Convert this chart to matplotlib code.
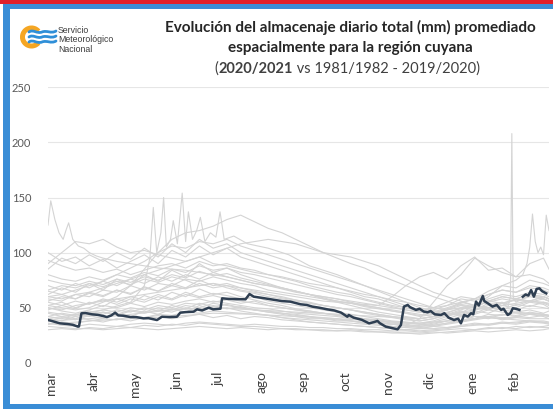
import matplotlib
matplotlib.use("Agg")
import matplotlib.pyplot as plt
from matplotlib.patches import Rectangle, Wedge, PathPatch
from matplotlib.path import Path

# ---- data -----------------------------------------------------------------
MONTHS = ["mar", "abr", "may", "jun", "jul", "ago", "sep", "oct", "nov", "dic", "ene", "feb"]
MONTH_START = [0, 31, 61, 92, 122, 153, 184, 214, 245, 275, 306, 337]

# common sampling (day of season, 0 = 1 March) for the historical years
GRID_DAYS = [0, 10, 20, 30, 40, 50, 60, 70, 80, 90, 100, 110, 120, 130, 140, 150, 160, 170, 180,
             190, 200, 210, 220, 230, 240, 250, 260, 270, 280, 290, 300, 310, 320, 330, 340, 350,
             360, 364]

HIST_GRID = [
    [33, 32, 31, 31, 30, 31, 32, 31, 30, 31, 32, 33, 32, 31, 32, 31, 30, 31, 30, 30, 29, 29, 30, 29, 28, 28, 27, 27, 28, 27, 28, 29, 28, 29, 30, 29, 30, 31],
    [36, 34, 33, 35, 34, 33, 35, 36, 35, 34, 36, 37, 36, 35, 34, 35, 34, 33, 33, 32, 32, 31, 31, 30, 30, 29, 29, 28, 29, 30, 31, 30, 32, 31, 33, 32, 33, 34],
    [40, 38, 42, 39, 37, 40, 38, 41, 43, 40, 42, 44, 41, 43, 40, 42, 41, 39, 38, 37, 36, 35, 34, 33, 32, 31, 30, 31, 33, 32, 34, 36, 35, 37, 36, 38, 37, 36],
    [45, 42, 40, 44, 46, 43, 47, 45, 48, 46, 50, 48, 52, 49, 51, 48, 46, 45, 43, 42, 40, 39, 38, 36, 35, 33, 32, 34, 36, 38, 37, 40, 42, 39, 41, 44, 42, 40],
    [50, 47, 45, 48, 52, 50, 54, 51, 55, 53, 56, 58, 55, 57, 54, 56, 52, 50, 48, 46, 45, 43, 41, 40, 38, 36, 35, 33, 35, 38, 42, 40, 44, 43, 46, 48, 45, 47],
    [55, 52, 56, 53, 58, 55, 60, 57, 62, 58, 64, 60, 63, 61, 58, 60, 56, 54, 52, 50, 48, 46, 44, 42, 40, 38, 37, 36, 38, 42, 46, 44, 48, 52, 50, 55, 53, 50],
    [60, 62, 58, 64, 61, 66, 63, 68, 65, 70, 67, 72, 68, 70, 66, 64, 62, 59, 57, 55, 52, 50, 48, 46, 44, 42, 40, 38, 40, 45, 50, 48, 54, 52, 58, 56, 60, 58],
    [70, 66, 72, 68, 74, 70, 76, 72, 78, 74, 80, 76, 82, 78, 75, 72, 70, 67, 64, 62, 60, 58, 55, 52, 50, 47, 45, 42, 44, 48, 55, 52, 58, 62, 60, 64, 62, 60],
    [80, 76, 74, 78, 75, 80, 77, 82, 79, 85, 82, 88, 84, 86, 82, 80, 77, 74, 71, 68, 65, 62, 60, 57, 54, 51, 48, 46, 48, 52, 58, 56, 62, 66, 64, 70, 68, 66],
    [93, 88, 84, 86, 82, 85, 80, 84, 88, 90, 86, 92, 88, 90, 86, 84, 80, 77, 74, 70, 67, 64, 62, 58, 55, 52, 50, 47, 50, 55, 60, 58, 65, 70, 68, 75, 72, 70],
    [52, 50, 48, 50, 55, 60, 70, 85, 100, 112, 118, 120, 124, 130, 134, 128, 122, 118, 112, 106, 100, 95, 90, 86, 80, 75, 70, 65, 60, 56, 52, 50, 48, 46, 45, 44, 43, 42],
    [65, 62, 66, 70, 74, 80, 86, 92, 100, 106, 104, 110, 108, 112, 106, 102, 98, 94, 90, 86, 82, 78, 74, 70, 66, 62, 58, 54, 50, 48, 50, 52, 55, 58, 56, 60, 58, 56],
    [42, 40, 44, 42, 46, 44, 48, 46, 50, 48, 52, 50, 54, 52, 50, 48, 46, 44, 42, 40, 40, 38, 38, 36, 36, 35, 34, 40, 55, 70, 80, 95, 88, 82, 78, 90, 95, 85],
    [58, 56, 62, 60, 66, 64, 70, 66, 72, 70, 76, 74, 78, 75, 72, 70, 66, 64, 62, 60, 58, 56, 54, 52, 50, 48, 46, 44, 42, 44, 46, 48, 50, 52, 54, 56, 55, 54],
    [46, 44, 42, 45, 48, 46, 50, 48, 52, 50, 54, 53, 56, 54, 52, 50, 49, 47, 45, 44, 43, 42, 40, 39, 38, 37, 36, 35, 34, 36, 38, 40, 42, 44, 43, 45, 44, 43],
    [90, 100, 110, 108, 112, 105, 100, 102, 98, 95, 92, 96, 90, 88, 85, 82, 80, 78, 75, 72, 70, 68, 65, 62, 60, 57, 55, 52, 50, 52, 55, 58, 56, 60, 58, 62, 60, 58],
    [60, 58, 62, 64, 68, 72, 76, 80, 84, 88, 92, 96, 100, 104, 108, 110, 112, 110, 108, 104, 100, 98, 96, 92, 88, 82, 76, 70, 64, 60, 56, 52, 50, 48, 46, 45, 44, 43],
    [50, 48, 52, 54, 56, 58, 60, 62, 64, 66, 68, 70, 72, 70, 68, 66, 64, 62, 60, 58, 56, 55, 54, 53, 52, 60, 70, 78, 82, 76, 88, 96, 84, 86, 78, 80, 76, 72],
    [42, 45, 43, 47, 44, 48, 46, 50, 47, 52, 49, 54, 51, 53, 50, 48, 47, 45, 44, 42, 41, 40, 38, 37, 36, 35, 33, 32, 33, 35, 37, 39, 41, 40, 42, 41, 43, 42],
    [52, 55, 50, 54, 57, 53, 58, 55, 60, 57, 62, 59, 61, 58, 56, 54, 52, 50, 48, 47, 45, 44, 42, 40, 39, 37, 36, 35, 37, 40, 44, 47, 45, 50, 48, 52, 50, 49],
    [35, 37, 36, 38, 40, 39, 42, 41, 44, 43, 46, 45, 47, 46, 45, 44, 43, 41, 40, 39, 38, 37, 36, 35, 34, 33, 32, 31, 31, 32, 33, 34, 35, 36, 37, 38, 38, 37],
    [75, 72, 70, 74, 71, 76, 73, 78, 75, 80, 77, 83, 79, 81, 77, 74, 71, 68, 65, 62, 59, 56, 54, 51, 49, 47, 45, 43, 45, 49, 53, 51, 56, 60, 58, 62, 60, 58],
    [66, 70, 68, 72, 69, 74, 71, 76, 73, 78, 75, 70, 72, 68, 65, 63, 60, 58, 56, 54, 52, 50, 48, 46, 44, 42, 41, 40, 42, 46, 49, 52, 50, 54, 57, 55, 58, 56],
    [30, 31, 30, 32, 31, 33, 32, 34, 33, 35, 34, 36, 35, 34, 33, 33, 32, 31, 31, 30, 30, 29, 29, 28, 28, 27, 27, 26, 27, 28, 29, 30, 31, 32, 31, 33, 32, 32],
    [85, 95, 90, 98, 92, 100, 94, 104, 96, 108, 100, 112, 104, 108, 100, 96, 92, 88, 84, 80, 76, 72, 68, 64, 60, 56, 52, 48, 46, 50, 54, 58, 62, 66, 64, 68, 66, 64],
    [62, 68, 64, 72, 66, 76, 70, 80, 74, 84, 78, 90, 82, 86, 80, 76, 72, 68, 65, 62, 58, 55, 52, 49, 46, 44, 42, 40, 42, 44, 48, 52, 50, 54, 52, 56, 54, 52],
    [48, 52, 49, 55, 51, 58, 54, 61, 57, 64, 60, 67, 62, 64, 60, 57, 54, 52, 49, 47, 45, 43, 41, 39, 37, 35, 34, 33, 34, 36, 38, 42, 40, 44, 42, 46, 44, 43],
    [38, 41, 39, 43, 40, 45, 42, 47, 44, 49, 46, 52, 48, 50, 47, 45, 43, 41, 39, 37, 36, 35, 34, 33, 32, 31, 30, 29, 30, 31, 33, 35, 34, 36, 35, 37, 36, 35],
    [100, 92, 96, 88, 94, 86, 92, 98, 90, 102, 96, 106, 98, 104, 96, 92, 88, 84, 80, 76, 72, 68, 64, 60, 58, 54, 50, 47, 45, 48, 52, 50, 56, 54, 58, 56, 60, 58],
    [56, 60, 58, 63, 60, 66, 62, 69, 65, 72, 68, 75, 70, 72, 68, 65, 62, 60, 57, 54, 52, 50, 48, 45, 43, 41, 39, 38, 40, 43, 47, 45, 50, 48, 53, 51, 55, 53],
]

# historical years with short-lived peaks, sampled on their own days
SPRING_DAYS = [0, 2, 5, 8, 11, 13, 15, 18, 22, 26, 30, 35, 40, 50, 60, 70, 80, 90, 100, 110, 120,
               130, 140, 150, 160, 170, 180, 190, 200, 210, 220, 230, 240, 250, 260, 270, 280, 290,
               300, 310, 320, 330, 340, 350, 360, 364]
SPRING_VALS = [125, 147, 130, 118, 112, 120, 127, 112, 106, 104, 100, 97, 95, 92, 90, 88, 86, 85,
               84, 82, 80, 78, 75, 72, 70, 68, 65, 62, 60, 58, 56, 54, 52, 50, 48, 46, 45, 44, 43,
               42, 42, 41, 41, 40, 40, 40]

WINTER_DAYS = [0, 20, 40, 60, 70, 74, 76.5, 79, 82, 84, 86, 89, 91, 94, 97.5, 100, 102, 105, 108,
               110.7, 114, 118, 122, 125, 128, 135, 145, 160, 175, 190, 210, 230, 250, 270, 290,
               310, 330, 350, 364]
WINTER_VALS = [40, 44, 48, 55, 70, 95, 141, 100, 118, 150, 105, 112, 129, 108, 154, 110, 137, 112,
               120, 132, 110, 118, 114, 137, 112, 115, 108, 104, 98, 88, 80, 70, 60, 50, 45, 42,
               40, 38, 36]

FEBPEAK_DAYS = [0, 30, 60, 90, 120, 150, 180, 210, 240, 270, 290, 300, 310, 320, 330, 334, 336,
                337, 338, 340, 345, 350, 355, 360, 364]
FEBPEAK_VALS = [35, 38, 40, 42, 45, 44, 42, 40, 38, 36, 38, 42, 48, 52, 55, 50, 60, 208, 60, 55,
                58, 62, 60, 58, 56]

LATE_DAYS = [0, 30, 60, 90, 120, 150, 180, 210, 240, 270, 300, 320, 330, 340, 345, 348, 350, 352,
             354, 356, 358, 360, 362, 364]
LATE_VALS = [38, 40, 44, 48, 50, 48, 46, 44, 42, 40, 45, 60, 70, 75, 80, 90, 105, 135, 110, 100,
             105, 98, 134, 120]

# 2020/2021 season (two pieces, gap near the start of February)
CUR_DAYS_1 = [0, 4, 8.7, 14, 18, 21.8, 22.5, 24.3, 27, 32, 36, 40, 42.8, 46, 48.8, 51, 54.8, 60,
              64, 69.4, 73, 79.2, 82.8, 88, 93.7, 96.1, 100, 105.8, 108.3, 112, 116.8, 120, 125.3,
              126.5, 131, 137, 143.5, 146.4, 149.5, 155, 160, 165, 170, 176, 183.5, 188, 192, 197,
              203, 208, 213, 217.5, 218.5, 222, 228, 233.3, 237, 239.4, 241, 245.4, 250, 254,
              256.4, 258.6, 261.3, 263, 267.3, 270, 273, 275.8, 278, 281, 285.5, 288, 291, 295,
              298, 300, 302.3, 305, 307.4, 309, 311, 313, 315.9, 317, 319.5, 323, 326, 329.2, 331,
              334, 336, 337.7, 340, 342.5]
CUR_VALS_1 = [38.9, 37.5, 35.8, 35.2, 34.5, 32.8, 33, 44.9, 45.2, 44, 43.5, 42.5, 41.5, 43, 45.5,
              43, 42.7, 41.5, 41.5, 40.3, 40.5, 38.8, 41.8, 41.5, 41.8, 45.5, 46, 46.4, 48.5,
              47.5, 50, 48.5, 49.1, 58.5, 58, 57.8, 57.6, 62.4, 60, 59, 58, 57, 56, 55.5, 53.1,
              52.5, 51, 50, 48.5, 47.5, 45.5, 41.8, 43.4, 41, 39, 35.8, 37, 38, 36, 32.8, 31.5,
              30.4, 34.3, 51, 52.5, 50.5, 48, 49, 46.5, 45.8, 47, 44, 43.4, 45, 41, 38.8, 40,
              35.8, 43.4, 42, 45, 44, 55.5, 52, 60.6, 56, 54, 51, 52.5, 48, 49, 43.4, 45, 49.5,
              49, 48]
CUR_DAYS_2 = [345, 347, 349, 351, 353, 355, 357, 359, 362]
CUR_VALS_2 = [60, 62, 61, 66, 60, 67, 67.6, 65, 63]

Y_TICKS = [0, 50, 100, 150, 200, 250]

# ---- figure ---------------------------------------------------------------
W, H = 553, 409
BLUE = "#3a8dd6"
RED = "#e0202a"
GREY = "#d4d4d4"
DARK = "#2f3f52"


def fx(x):
    return x / W


def fy(y):
    return 1 - y / H


fig = plt.figure(figsize=(W / 100, H / 100), dpi=100)
fig.patch.set_facecolor("white")

# frame: red strip on top, blue border round the rest
fig.add_artist(Rectangle((0, fy(4)), 1, 4 / H, transform=fig.transFigure, color=RED, lw=0))
fig.add_artist(Rectangle((fx(3), fy(9)), 1, 5 / H, transform=fig.transFigure, color=BLUE, lw=0))
fig.add_artist(Rectangle((fx(3), 0), 7 / W, fy(9), transform=fig.transFigure, color=BLUE, lw=0))
fig.add_artist(Rectangle((fx(3), 0), 1, 5 / H, transform=fig.transFigure, color=BLUE, lw=0))

ax = fig.add_axes([fx(48), fy(362.8), (549 - 48) / W, (362.8 - 87.3) / H])
ax.set_facecolor("none")
for y in Y_TICKS:
    ax.axhline(y, color="#e6e6e6", lw=0.8, zorder=0)

for vals in HIST_GRID:
    ax.plot(GRID_DAYS, vals, color=GREY, lw=0.8, zorder=1)
for d, v in [(SPRING_DAYS, SPRING_VALS), (WINTER_DAYS, WINTER_VALS),
             (FEBPEAK_DAYS, FEBPEAK_VALS), (LATE_DAYS, LATE_VALS)]:
    ax.plot(d, v, color=GREY, lw=0.8, zorder=1)

ax.plot(CUR_DAYS_1, CUR_VALS_1, color=DARK, lw=1.8, zorder=3)
ax.plot(CUR_DAYS_2, CUR_VALS_2, color=DARK, lw=1.8, zorder=3)

ax.set_xlim(0, 364)
ax.set_ylim(0, 250)
ax.set_yticks(Y_TICKS)
ax.set_yticklabels([str(t) for t in Y_TICKS], fontsize=8, color="#595959", family="Lato")
ax.set_xticks([m + 2 for m in MONTH_START])
ax.set_xticklabels(MONTHS, rotation=90, fontsize=10, color="#404040", family="Lato")
ax.tick_params(axis="both", length=0)
ax.tick_params(axis="y", pad=12)
ax.tick_params(axis="x", pad=6)
for s in ax.spines.values():
    s.set_visible(False)

# title
tkw = dict(ha="center", va="center", color="#262626", family="Lato", fontsize=11)
fig.text(fx(350), fy(27), "Evolución del almacenaje diario total (mm) promediado",
         fontweight="bold", **tkw)
fig.text(fx(350), fy(48), "espacialmente para la región cuyana", fontweight="bold", **tkw)

renderer = fig.canvas.get_renderer()
parts = [("(", "normal"), ("2020/2021", "bold"), (" vs 1981/1982 - 2019/2020)", "normal")]
pieces = []
total = 0
for txt, wgt in parts:
    t = fig.text(0, fy(69), txt, ha="left", va="center", color="#404040", family="Lato",
                 fontsize=10.5, fontweight=wgt)
    w = t.get_window_extent(renderer).width
    pieces.append((t, w))
    total += w
x0 = 347 - total / 2
for t, w in pieces:
    t.set_x(fx(x0))
    x0 += w

# logo
lax = fig.add_axes([fx(15), fy(56), 45 / W, 38 / H])
lax.set_xlim(15, 60)
lax.set_ylim(56, 18)
lax.axis("off")
lax.add_patch(Wedge((31.5, 37), 11.5, 40, 320, width=5, color="#f5a623", lw=0))
for y0 in (32, 37, 42):
    verts = [(29, y0), (33, y0 - 3), (37, y0 + 2), (42, y0), (47, y0 - 2), (51, y0 + 2), (56, y0 - 1)]
    codes = [Path.MOVETO, Path.CURVE4, Path.CURVE4, Path.CURVE4, Path.CURVE4, Path.CURVE4, Path.CURVE4]
    lax.add_patch(PathPatch(Path(verts, codes), fill=False, ec="#2f8fd8", lw=2.0,
                            capstyle="round"))
for i, line in enumerate(["Servicio", "Meteorológico", "Nacional"]):
    fig.text(fx(58), fy(30.7 + 9.2 * i), line, ha="left", va="center", fontsize=6.3,
             color="#3c3c3c", family="Liberation Sans")

fig.savefig("out.png", dpi=100)
